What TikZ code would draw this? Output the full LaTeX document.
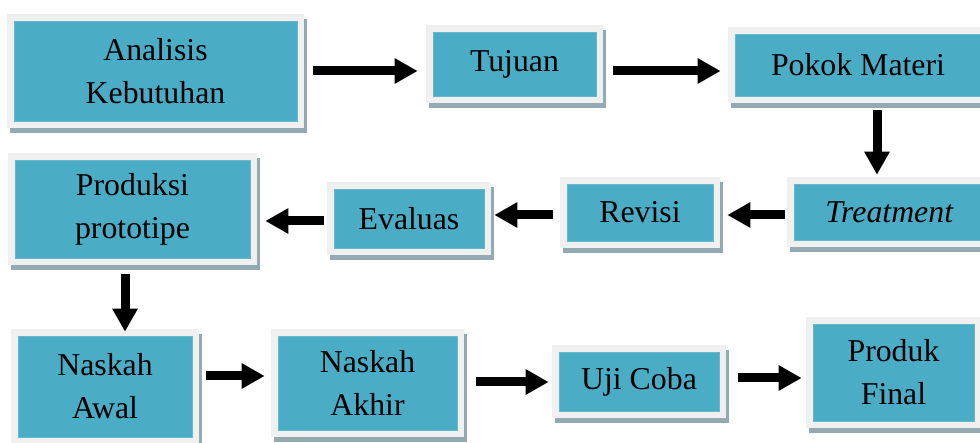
\documentclass[tikz,border=0pt]{standalone}
\usepackage{fontspec}
\setmainfont{Liberation Serif}
\usetikzlibrary{arrows.meta,calc}
\definecolor{tealbox}{HTML}{4BACC6}
\definecolor{frm}{HTML}{F0F0F0}
\definecolor{shd}{HTML}{93AAB2}
\tikzset{
  boxn/.style={fill=tealbox, draw=tealbox!85!white, line width=0.6pt, inner sep=0pt,
    align=center, text=black, font=\fontsize{31.8}{43}\selectfont},
  arr/.style={line width=9pt, -{Triangle[length=23pt,width=24pt]}}
}
% name, x1, y1, x2, y2 (outer frame), text
\newcommand{\mybox}[6]{%
  \fill[shd] (#2+3,#3+5) rectangle (#4+3,#5+5);
  \fill[frm] (#2,#3) rectangle (#4,#5);
  \node[boxn, minimum width={#4-#2-14}, minimum height={#5-#3-14}]
    (#1) at ({(#2+#4)/2},{(#3+#5)/2}) {#6};
}
\begin{document}
\begin{tikzpicture}[x=1pt,y=-1pt]
\useasboundingbox (0,0) rectangle (980,443);
\clip (0,0) rectangle (980,443);
\mybox{A}{7}{14}{304}{128}{Analisis\\Kebutuhan}
\mybox{T}{426}{25}{603}{103}{Tujuan}
\mybox{P}{728}{27}{988}{103}{Pokok Materi}
\mybox{Tr}{787}{177}{992}{247}{\textit{Treatment}}
\mybox{R}{560}{177}{720}{248}{Revisi}
\mybox{E}{327}{182}{491}{255}{Evaluas}
\mybox{Pr}{8}{153}{257}{265}{Produksi\\prototipe}
\mybox{Aw}{11}{329}{199}{444}{Naskah\\Awal}
\mybox{Ak}{271}{329}{464}{437}{Naskah\\Akhir}
\mybox{U}{552}{345}{726}{418}{Uji Coba}
\mybox{F}{806}{317}{981}{428}{Produk\\Final}

\draw[arr] ([xshift=16pt]A.east) -- ([xshift=-15pt,yshift=-7pt]T.west);
\draw[arr] ([xshift=17pt,yshift=-7pt]T.east) -- ([xshift=-14pt,yshift=-6pt]P.west);
\draw[arr] ([xshift=19pt,yshift=-14pt]P.south) -- ([xshift=-12.5pt,yshift=9pt]Tr.north);
\draw[arr] ([xshift=-9pt,yshift=-3pt]Tr.west) -- ([xshift=14pt,yshift=-2.5pt]R.east);
\draw[arr] ([xshift=-14pt,yshift=-2.5pt]R.west) -- ([xshift=10pt,yshift=3.5pt]E.east);
\draw[arr] ([xshift=-10pt,yshift=-2.5pt]E.west) -- ([xshift=15pt,yshift=-12pt]Pr.east);
\draw[arr] ([xshift=-7.5pt,yshift=-16pt]Pr.south) -- ([xshift=20pt,yshift=4pt]Aw.north);
\draw[arr] ([xshift=14pt,yshift=10.5pt]Aw.east) -- ([xshift=-13pt,yshift=7pt]Ak.west);
\draw[arr] ([xshift=19pt,yshift=1pt]Ak.east) -- ([xshift=-10pt,yshift=-0.5pt]U.west);
\draw[arr] ([xshift=19pt,yshift=3.5pt]U.east) -- ([xshift=-11pt,yshift=-5.5pt]F.west);
\end{tikzpicture}
\end{document}
